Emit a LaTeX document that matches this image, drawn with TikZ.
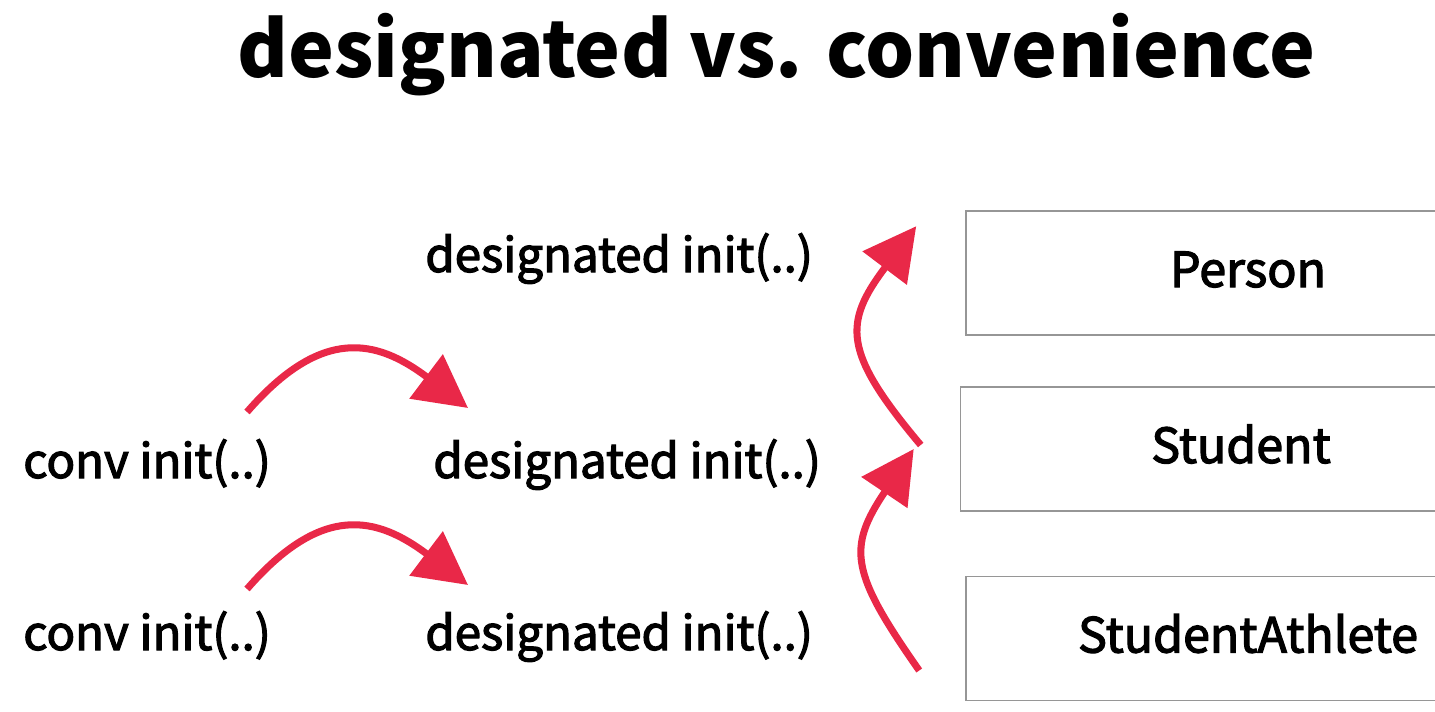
\documentclass[tikz,border=0pt]{standalone}
\usepackage{fontspec}
\setmainfont{Noto Sans CJK KR}
\newfontfamily\medfont{Noto Sans CJK KR}[FakeBold=2.5]
\usepackage{xcolor}
\usepackage{tikz}
\usetikzlibrary{arrows.meta, positioning, calc}

\definecolor{arrowred}{RGB}{233,40,72}
\definecolor{boxgray}{RGB}{150,150,150}

\begin{document}
\begin{tikzpicture}[
    label/.style={inner sep=0pt, anchor=base west, font=\medfont\fontsize{27}{32}\selectfont},
    classbox/.style={rectangle, draw=boxgray, line width=0.9pt, minimum width=11.28cm, minimum height=2.48cm, inner sep=0pt, text height=0.66cm, text depth=0.1cm, font=\medfont\fontsize{27.5}{30}\selectfont},
    callarrow/.style={arrowred, line width=4pt, -{Triangle[length=1.05cm, width=1.08cm]}}
]
\useasboundingbox (0,0) rectangle (28.7,14.22);

% Title
\node[inner sep=0pt, anchor=base, font=\fontsize{44}{50}\bfseries\selectfont] (title) at (15.53,12.66) {designated vs. convenience};

% Class boxes
\node[classbox] (person) at (24.96,8.76) {Person};
\node[classbox, minimum width=11.22cm] (student) at (24.82,5.24) {Student};
\node[classbox] (athlete) at (24.96,1.45) {StudentAthlete};

% Initializers
\node[label] (des1) at (8.50,8.78) {designated init(..)};
\node[label] (des2) at (8.66,4.66) {designated init(..)};
\node[label] (des3) at (8.50,1.22) {designated init(..)};
\node[label] (conv1) at (0.46,4.66) {conv init(..)};
\node[label] (conv2) at (0.46,1.22) {conv init(..)};

% Arrow ends
\coordinate (c1s) at (4.94,5.98);
\coordinate (c1e) at (9.36,6.06);
\coordinate (c2s) at (4.94,2.44);
\coordinate (c2e) at (9.36,2.52);

% Arrows
\draw[callarrow] (c1s) to[out=49, in=143, looseness=1.32] (c1e);
\draw[callarrow] (c2s) to[out=49, in=143, looseness=1.32] (c2e);
\draw[callarrow] ([xshift=-0.92cm, yshift=-0.64cm]athlete.west) to[out=125, in=236, looseness=1.38] ([xshift=-0.92cm]student.west);
\draw[callarrow] ([xshift=-0.78cm, yshift=0.08cm]student.west) to[out=130, in=233, looseness=1.42] ([xshift=-0.98cm, yshift=-0.32cm]person.north west);

\end{tikzpicture}
\end{document}
